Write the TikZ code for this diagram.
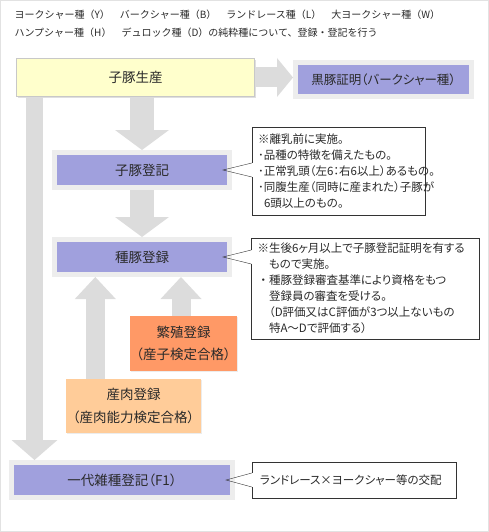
\documentclass[tikz,border=0pt]{standalone}
\usepackage{fontspec}
\setmainfont{Noto Sans CJK JP}[RawFeature=+palt]
\newfontfamily\fulljp{Noto Sans CJK JP}
\usepackage{xcolor}
\usetikzlibrary{arrows.meta, positioning, calc, shadows}

\definecolor{boxpurple}{HTML}{A0A0DD}
\definecolor{framegray}{HTML}{EDEDED}
\definecolor{arrowgray}{HTML}{DCDCDC}
\definecolor{boxyellow}{HTML}{FFFFCC}
\definecolor{yellowline}{HTML}{C8C8C8}
\definecolor{boxorange}{HTML}{FF9966}
\definecolor{boxpeach}{HTML}{FFCC99}
\definecolor{notegray}{HTML}{333333}
\definecolor{txtgray}{HTML}{2A2A2A}
\definecolor{outerline}{HTML}{E2E2E2}

\tikzset{
  purplebox/.style={fill=boxpurple, draw=framegray, line width=5pt, outer sep=2.5pt,
    minimum height=35pt, inner sep=0pt, font=\fontsize{13.5}{16}\selectfont,
    drop shadow={opacity=.25, shadow xshift=1.5pt, shadow yshift=-1.5pt}},
  regbox/.style={inner sep=0pt, align=center, font=\fontsize{13.5}{22.5}\selectfont,
    drop shadow={opacity=.15, shadow xshift=1pt, shadow yshift=-1pt}},
  notebox/.style={draw=notegray, fill=white, align=left, inner xsep=6pt, inner ysep=0pt,
    font=\fontsize{11.5}{16}\selectfont},
  fatarrow/.style n args={3}{draw=arrowgray, line width=#1,
    -{Triangle[width=#2, length=#3, line width=0pt]}}
}

\begin{document}
\begin{tikzpicture}[x=1pt, y=-1pt, every node/.style={text=txtgray}]
  \useasboundingbox (0,0) rectangle (489,532);
  \draw[outerline] (0.5,0.5) rectangle (488.5,531.5);

  % Heading
  \node[anchor=west, align=left, font=\fulljp\fontsize{10}{18}\selectfont] (title) at (11,24)
    {ヨークシャー種（Y）　バークシャー種（B）　ランドレース種（L）　大ヨークシャー種（W）\\
     ハンプシャー種（H）　デュロック種（D）の純粋種について、登録・登記を行う};

  % Main flow
  \node[draw=yellowline, fill=boxyellow, minimum width=238pt, minimum height=38pt,
    font=\fontsize{13.5}{16}\selectfont,
    drop shadow={opacity=.25, shadow xshift=1.5pt, shadow yshift=-1.5pt}]
    (seisan) at (135.5,77.5) {子豚生産};
  \node[purplebox, minimum width=176pt, minimum height=34pt,
    font=\fontsize{12.5}{16}\selectfont] (kuro) at (383.5,79.5) {黒豚証明（バークシャー種）};
  \node[purplebox, minimum width=175pt] (touki) at (142,170) {子豚登記};
  \node[purplebox, minimum width=175pt] (shuton) at (142,257) {種豚登録};
  \node[purplebox, minimum width=221pt] (f1) at (122,480) {一代雑種登記（F1）};

  % Registration boxes
  \node[regbox, fill=boxorange, minimum width=107pt, minimum height=55pt]
    (hanshoku) at (183.5,343.5) {繁殖登録\\（産子検定合格）};
  \node[regbox, fill=boxpeach, minimum width=135pt, minimum height=54pt]
    (sanniku) at (133.5,406) {産肉登録\\（産肉能力検定合格）};

  % Notes
  \node[notebox, text width=161pt, minimum height=88pt] (n1) at (338.5,171)
    {※離乳前に実施。\\
     ･品種の特徴を備えたもの。\\
     ･正常乳頭（左6：右6以上）あるもの。\\
     ･同腹生産（同時に産まれた）子豚が\\
     \hspace*{6pt}6頭以上のもの。};
  \node[notebox, text width=216pt, minimum height=101pt] (n2) at (365.5,288.5)
    {※生後6ヶ月以上で子豚登記証明を有する\\
     　もので実施。\\
     {\fulljp ・}種豚登録審査基準により資格をもつ\\
     　登録員の審査を受ける。\\
     　（D評価又はC評価が3つ以上ないもの\\
     　特A～Dで評価する）};
  \node[notebox, inner xsep=8pt, text width=188pt, minimum height=36pt] (n3) at (354,480)
    {ランドレース×ヨークシャー等の交配};

  % Pointers of the notes
  \foreach \src/\dst in {touki/n1, shuton/n2, f1/n3} {
    \coordinate (tip) at ([xshift=-9pt]\src.east);
    \fill[white] ([xshift=-1pt,yshift=7pt]tip -| \dst.west)
      rectangle ([xshift=1pt,yshift=-7pt]tip -| \dst.west);
    \draw[notegray] ([yshift=7pt]tip -| \dst.west) -- (tip)
      -- ([yshift=-7pt]tip -| \dst.west);
  }

  % Grey arrows
  \draw[fatarrow={20pt}{39pt}{16pt}] (seisan.east) -- (seisan.east -| kuro.west);
  \draw[fatarrow={24pt}{54pt}{20pt}] (touki.north |- seisan.south) -- (touki.north);
  \draw[fatarrow={24pt}{54pt}{20pt}] (touki.south) -- (shuton.north);
  \coordinate (lft) at ([xshift=25.5pt]f1.north west);
  \draw[fatarrow={17pt}{46pt}{20pt}] (lft |- seisan.south) -- (lft);
  \coordinate (up1) at ([xshift=29.5pt]sanniku.north west);
  \coordinate (up2) at ([xshift=-2.5pt]hanshoku.north);
  \draw[fatarrow={19pt}{41pt}{22pt}] (up1) -- (up1 |- shuton.south);
  \draw[fatarrow={19pt}{41pt}{22pt}] (up2) -- (up2 |- shuton.south);
\end{tikzpicture}
\end{document}
